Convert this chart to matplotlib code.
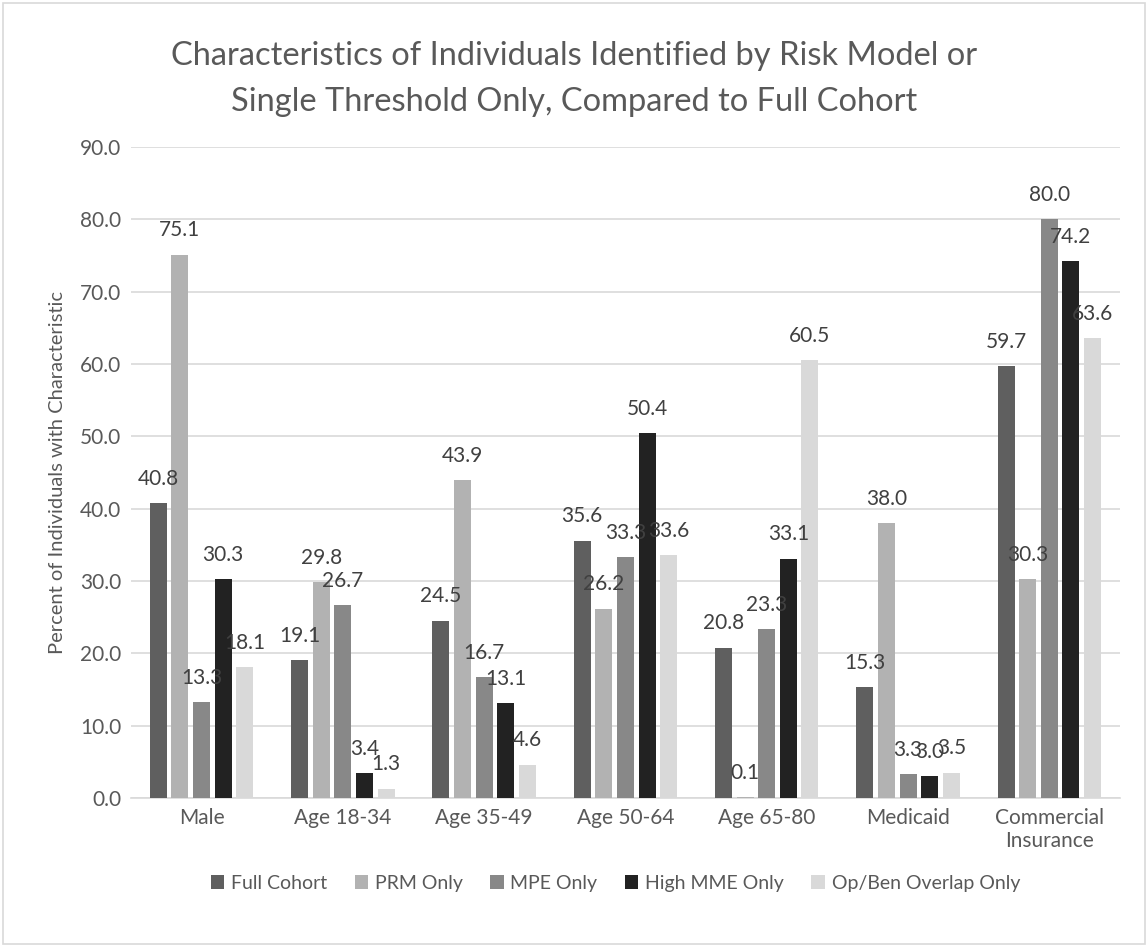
import numpy as np
import matplotlib.pyplot as plt
from matplotlib.patches import Rectangle

plt.rcParams["font.family"] = ["Lato", "DejaVu Sans"]

categories = ["Male", "Age 18-34", "Age 35-49", "Age 50-64", "Age 65-80",
              "Medicaid", "Commercial\nInsurance"]
series_names = ["Full Cohort", "PRM Only", "MPE Only", "High MME Only",
                "Op/Ben Overlap Only"]
full_cohort = [40.8, 19.1, 24.5, 35.6, 20.8, 15.3, 59.7]
prm_only = [75.1, 29.8, 43.9, 26.2, 0.1, 38.0, 30.3]
mpe_only = [13.3, 26.7, 16.7, 33.3, 23.3, 3.3, 80.0]
high_mme_only = [30.3, 3.4, 13.1, 50.4, 33.1, 3.0, 74.2]
opben_only = [18.1, 1.3, 4.6, 33.6, 60.5, 3.5, 63.6]
yticks = np.arange(0, 91, 10)

series = [full_cohort, prm_only, mpe_only, high_mme_only, opben_only]
colors = ["#5f5f5f", "#b2b2b2", "#888888", "#222222", "#d9d9d9"]
text_gray = "#595959"
grid_gray = "#d9d9d9"

fig = plt.figure(figsize=(11.48, 9.47), dpi=100)
ax = fig.add_axes([0.114, 0.1573, 0.8616, 0.6875])

x = np.arange(len(categories))
step = 0.153
width = 0.12
for k, (vals, name, col) in enumerate(zip(series, series_names, colors)):
    pos = x + (k - 2) * step
    bars = ax.bar(pos, vals, width=width, color=col, label=name, zorder=3)
    for b, v in zip(bars, vals):
        ax.annotate(f"{v:.1f}", (b.get_x() + b.get_width() / 2, v),
                    xytext=(0, 17.5), textcoords="offset points",
                    ha="center", va="center", fontsize=15, color="#404040",
                    zorder=5)

ax.set_xlim(-0.5, len(categories) - 0.5)
ax.set_ylim(0, 90)
ax.set_yticks(yticks)
ax.set_yticklabels([f"{t:.1f}" for t in yticks])
ax.set_xticks(x)
ax.set_xticklabels(categories)
ax.tick_params(axis="both", length=0, labelsize=15, labelcolor=text_gray)
ax.tick_params(axis="y", pad=7)
ax.tick_params(axis="x", pad=7)
ax.grid(axis="y", color=grid_gray, linewidth=1.2, zorder=0)
for s in ["top", "right", "left"]:
    ax.spines[s].set_visible(False)
ax.spines["bottom"].set_color(grid_gray)
ax.spines["bottom"].set_linewidth(1.2)

ax.set_ylabel("Percent of Individuals with Characteristic", fontsize=14.5,
              color=text_gray, labelpad=10)

fig.text(0.5, 0.9166, "Characteristics of Individuals Identified by Risk Model or\n"
         "Single Threshold Only, Compared to Full Cohort",
         ha="center", va="center", fontsize=23.5, color=text_gray, linespacing=1.65)

fig.legend(loc="center", bbox_to_anchor=(0.536, 0.067), ncol=5, frameon=False,
           fontsize=14, labelcolor=text_gray, handlelength=0.7, handleheight=0.7,
           handletextpad=0.35, columnspacing=1.4)

# chart area outline
fig.add_artist(Rectangle((0.003, 0.003), 0.994, 0.994, transform=fig.transFigure,
                         fill=False, edgecolor=grid_gray, linewidth=1.2))

fig.savefig("out.png", dpi=100)
